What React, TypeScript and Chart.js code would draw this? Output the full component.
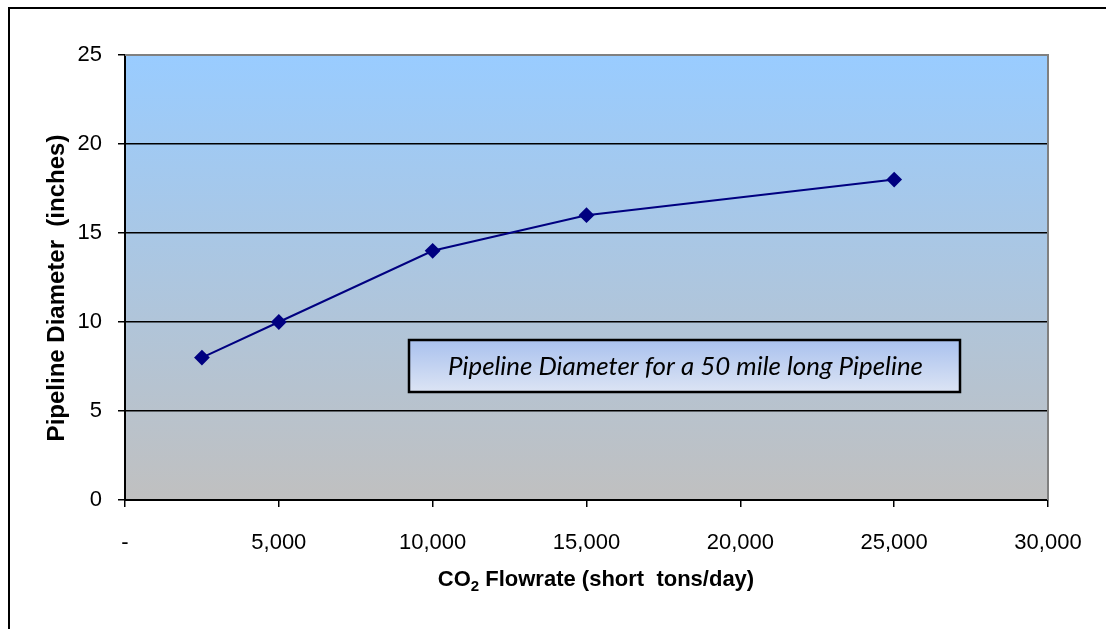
import React, { useEffect, useRef } from "react";
import { Chart, registerables } from "chart.js";

Chart.register(...registerables);

const flowrate = [2500, 5000, 10000, 15000, 25000];
const diameter = [8, 10, 14, 16, 18];
const xTickValues = [0, 5000, 10000, 15000, 20000, 25000, 30000];
const yTickValues = [0, 5, 10, 15, 20, 25];
const xAxisTitleMain = "CO";
const xAxisTitleSub = "2";
const xAxisTitleRest = " Flowrate (short  tons/day)";
const yAxisTitle = "Pipeline Diameter  (inches)";
const annotationText = "Pipeline Diameter for a 50 mile long Pipeline";

const decorPlugin = {
  id: "decor",
  beforeDraw(chart: any) {
    const { ctx, chartArea } = chart;
    const { left, top, right, bottom } = chartArea;
    ctx.save();
    ctx.fillStyle = "#ffffff";
    ctx.fillRect(0, 0, chart.width, chart.height);
    const g = ctx.createLinearGradient(0, top, 0, bottom);
    g.addColorStop(0, "#99CCFF");
    g.addColorStop(1, "#C0C0C0");
    ctx.fillStyle = g;
    ctx.fillRect(left, top, right - left, bottom - top);
    ctx.restore();
  },
  afterDraw(chart: any) {
    const { ctx, chartArea } = chart;
    const { left, top, right, bottom } = chartArea;
    ctx.save();
    ctx.strokeStyle = "#808080";
    ctx.lineWidth = 2;
    ctx.beginPath();
    ctx.moveTo(left, top);
    ctx.lineTo(right, top);
    ctx.lineTo(right, bottom);
    ctx.stroke();
    ctx.strokeStyle = "#000000";
    ctx.lineWidth = 2;
    ctx.beginPath();
    ctx.moveTo(9, chart.height + 2);
    ctx.lineTo(9, 8);
    ctx.lineTo(chart.width + 2, 8);
    ctx.stroke();

    const bx = 409, by = 340, bw = 551, bh = 52;
    const bg = ctx.createLinearGradient(0, by, 0, by + bh);
    bg.addColorStop(0, "#A9C1EE");
    bg.addColorStop(1, "#DCE4F4");
    ctx.fillStyle = bg;
    ctx.fillRect(bx, by, bw, bh);
    ctx.strokeStyle = "#000000";
    ctx.lineWidth = 2.5;
    ctx.strokeRect(bx, by, bw, bh);
    ctx.fillStyle = "#000000";
    ctx.font = "italic 25px Lato";
    ctx.textAlign = "center";
    ctx.textBaseline = "middle";
    const tw = ctx.measureText(annotationText).width;
    const sx = 475 / tw;
    ctx.save();
    ctx.translate(bx + bw / 2 + 1, by + bh / 2 + 1);
    ctx.scale(sx, 1);
    ctx.fillText(annotationText, 0, 0);
    ctx.restore();

    ctx.font = "bold 22px 'Liberation Sans'";
    ctx.textBaseline = "alphabetic";
    ctx.textAlign = "left";
    const wMain = ctx.measureText(xAxisTitleMain).width;
    const wRest = ctx.measureText(xAxisTitleRest).width;
    ctx.font = "bold 15px 'Liberation Sans'";
    const wSub = ctx.measureText(xAxisTitleSub).width;
    const total = wMain + wSub + wRest;
    const cx = 596;
    const x0 = cx - total / 2;
    const baseY = 586;
    ctx.font = "bold 22px 'Liberation Sans'";
    ctx.fillText(xAxisTitleMain, x0, baseY);
    ctx.font = "bold 15px 'Liberation Sans'";
    ctx.fillText(xAxisTitleSub, x0 + wMain, baseY + 5);
    ctx.font = "bold 22px 'Liberation Sans'";
    ctx.fillText(xAxisTitleRest, x0 + wMain + wSub, baseY);

    ctx.font = "bold 24px 'Liberation Sans'";
    ctx.translate(57, 288);
    ctx.rotate(-Math.PI / 2);
    ctx.textAlign = "center";
    ctx.textBaseline = "middle";
    ctx.fillText(yAxisTitle, 0, 0);
    ctx.restore();
  },
};

export default function App() {
  const ref = useRef<HTMLCanvasElement | null>(null);
  useEffect(() => {
    document.body.style.margin = "0";
    const canvas = ref.current!;
    const chart = new Chart(canvas, {
      type: "line",
      data: {
        datasets: [
          {
            data: flowrate.map((x, i) => ({ x, y: diameter[i] })),
            borderColor: "#000080",
            backgroundColor: "#000080",
            borderWidth: 2,
            pointStyle: "rectRot",
            pointRadius: 6.5,
            pointHoverRadius: 6.5,
            tension: 0,
          },
        ],
      },
      options: {
        responsive: false,
        animation: false,
        devicePixelRatio: 1,
        layout: { padding: { left: 0, top: 55, right: 58, bottom: 0 } },
        plugins: { legend: { display: false }, tooltip: { enabled: false }, title: { display: false } },
        scales: {
          x: {
            type: "linear",
            min: 0,
            max: 30000,
            afterBuildTicks: (s: any) => {
              s.ticks = xTickValues.map((v) => ({ value: v }));
            },
            afterFit: (s: any) => {
              s.height = 129;
            },
            grid: { drawOnChartArea: false, drawTicks: true, tickLength: 7, color: "#000000", lineWidth: 1.5 },
            border: { display: true, color: "#000000", width: 2 },
            ticks: {
              color: "#000000",
              font: { family: "'Liberation Sans'", size: 22 },
              padding: 23,
              maxRotation: 0,
              autoSkip: false,
              callback: (v: any) => (Number(v) === 0 ? "-" : Number(v).toLocaleString("en-US")),
            },
          },
          y: {
            type: "linear",
            min: 0,
            max: 25,
            afterBuildTicks: (s: any) => {
              s.ticks = yTickValues.map((v) => ({ value: v }));
            },
            afterFit: (s: any) => {
              s.width = 125;
            },
            grid: { drawOnChartArea: true, drawTicks: true, tickLength: 7, color: "#000000", lineWidth: 1.5 },
            border: { display: true, color: "#000000", width: 2 },
            ticks: {
              color: "#000000",
              font: { family: "'Liberation Sans'", size: 22 },
              padding: 16,
              autoSkip: false,
            },
          },
        },
      },
      plugins: [decorPlugin],
    });
    return () => chart.destroy();
  }, []);
  return <canvas ref={ref} width={1106} height={629} style={{ display: "block", width: 1106, height: 629 }} />;
}
